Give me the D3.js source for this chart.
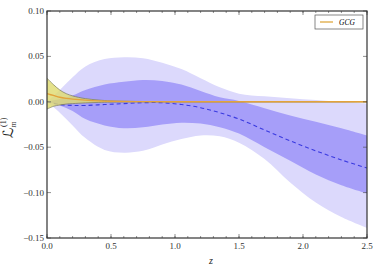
<!DOCTYPE html>
<html>
<head>
<meta charset="utf-8">
<script src="https://cdn.jsdelivr.net/npm/d3@7"></script>
<style>
  body { margin: 0; background: #fff; }
</style>
</head>
<body>
<div id="chart"></div>
<script>
var svgWidth = 382;
var svgHeight = 273;

var margin = { top: 11, right: 15, bottom: 35, left: 47 };
var width  = svgWidth  - margin.left - margin.right;
var height = svgHeight - margin.top  - margin.bottom;

var serif = "'Liberation Serif', 'Times New Roman', 'DejaVu Serif', serif";

// reconstruction bands
var zGrid      = [0, 0.1, 0.2, 0.3, 0.45, 0.6, 0.75, 0.9, 1.05, 1.2, 1.35, 1.5, 1.7, 1.9, 2.1, 2.3, 2.5];
var outerUpper = [0, 0.013, 0.027, 0.039, 0.047, 0.049, 0.048, 0.043, 0.036, 0.026, 0.016, 0.009, 0.006, 0.004, 0.002, 0.000, -0.002];
var outerLower = [0, -0.012, -0.026, -0.040, -0.053, -0.056, -0.054, -0.047, -0.041, -0.037, -0.038, -0.045, -0.063, -0.089, -0.111, -0.127, -0.139];
var innerUpper = [0, 0.003, 0.007, 0.013, 0.019, 0.022, 0.024, 0.023, 0.019, 0.012, 0.005, 0.001, -0.007, -0.015, -0.022, -0.029, -0.037];
var innerLower = [0, -0.004, -0.010, -0.019, -0.026, -0.029, -0.028, -0.025, -0.023, -0.024, -0.028, -0.035, -0.050, -0.065, -0.080, -0.092, -0.101];
var meanLine   = [0, -0.003, -0.004, -0.004, -0.003, -0.002, -0.001, -0.001, -0.003, -0.0065, -0.012, -0.019, -0.031, -0.043, -0.054, -0.064, -0.073];

// GCG model
var zGcg     = [0, 0.05, 0.1, 0.15, 0.2, 0.3, 0.4, 0.5, 0.7, 1.0, 2.5];
var gcgUpper = [0.026, 0.019, 0.013, 0.009, 0.0065, 0.0035, 0.002, 0.001, 0.0004, 0.0001, 0];
var gcgLower = [-0.008, -0.005, -0.0035, -0.0025, -0.002, -0.0012, -0.0007, -0.0004, -0.0002, -0.0001, 0];
var gcgMean  = [0.009, 0.007, 0.005, 0.0038, 0.003, 0.0018, 0.001, 0.0006, 0.0002, 0.0001, 0];

var xTicks = [0, 0.5, 1.0, 1.5, 2.0, 2.5];
var yTicks = [-0.15, -0.10, -0.05, 0.00, 0.05, 0.10];

var svg = d3.select("#chart").append("svg")
  .attr("width", svgWidth)
  .attr("height", svgHeight)
  .style("font-family", serif);

var chartGroup = svg.append("g")
  .attr("transform", `translate(${margin.left}, ${margin.top})`);

var x = d3.scaleLinear().domain([0, 2.5]).range([0, width]);
var y = d3.scaleLinear().domain([-0.15, 0.10]).range([height, 0]);

chartGroup.append("clipPath").attr("id", "clip")
  .append("rect").attr("width", width).attr("height", height);

var plot = chartGroup.append("g").attr("clip-path", "url(#clip)");

var curve = d3.curveCatmullRom.alpha(0.5);

function band(zs, lo, hi) {
  return d3.area()
    .x((d, i) => x(zs[i]))
    .y0((d, i) => y(lo[i]))
    .y1((d, i) => y(hi[i]))
    .curve(curve)(zs);
}
function line(zs, vs) {
  return d3.line()
    .x((d, i) => x(zs[i]))
    .y((d, i) => y(vs[i]))
    .curve(curve)(zs);
}

plot.append("path").attr("d", band(zGrid, outerLower, outerUpper)).attr("fill", "#dcd9fc");
plot.append("path").attr("d", band(zGrid, innerLower, innerUpper)).attr("fill", "#a69ef9");

plot.append("path").attr("d", line(zGrid, meanLine))
  .attr("fill", "none").attr("stroke", "#3a3ae0").attr("stroke-width", 1.1)
  .attr("stroke-dasharray", "4,3");

// GCG band
plot.append("path").attr("d", band(zGcg, gcgLower, gcgUpper))
  .attr("fill", "#dedb6e").attr("fill-opacity", 0.8);
plot.append("path").attr("d", line(zGcg, gcgUpper))
  .attr("fill", "none").attr("stroke", "#7a7a5a").attr("stroke-width", 0.7);
plot.append("path").attr("d", line(zGcg, gcgLower))
  .attr("fill", "none").attr("stroke", "#7a7a5a").attr("stroke-width", 0.7);
plot.append("path").attr("d", line(zGcg, gcgMean))
  .attr("fill", "none").attr("stroke", "#e3a33a").attr("stroke-width", 1.4);

// frame with inward ticks
var tickColor = "#444";
var xMinor = d3.range(0, 2.5001, 0.1);

function xticksOn(vals, len) {
  vals.forEach(function(v) {
    chartGroup.append("line").attr("x1", x(v)).attr("x2", x(v)).attr("y1", height).attr("y2", height - len).attr("stroke", tickColor).attr("stroke-width", 0.6);
    chartGroup.append("line").attr("x1", x(v)).attr("x2", x(v)).attr("y1", 0).attr("y2", len).attr("stroke", tickColor).attr("stroke-width", 0.6);
  });
}
function yticksOn(vals, len) {
  vals.forEach(function(v) {
    chartGroup.append("line").attr("y1", y(v)).attr("y2", y(v)).attr("x1", 0).attr("x2", len).attr("stroke", tickColor).attr("stroke-width", 0.6);
    chartGroup.append("line").attr("y1", y(v)).attr("y2", y(v)).attr("x1", width).attr("x2", width - len).attr("stroke", tickColor).attr("stroke-width", 0.6);
  });
}
xticksOn(xMinor, 2);
xticksOn(xTicks, 4);
yticksOn(yTicks, 4);

chartGroup.append("rect")
  .attr("width", width).attr("height", height)
  .attr("fill", "none").attr("stroke", "#333").attr("stroke-width", 1.2);

// tick labels
chartGroup.selectAll(".xl").data(xTicks).enter().append("text")
  .attr("x", d => x(d)).attr("y", height + 11)
  .attr("text-anchor", "middle").attr("font-size", 9).attr("fill", "#333")
  .text(d => d.toFixed(1));

chartGroup.selectAll(".yl").data(yTicks).enter().append("text")
  .attr("x", -3).attr("y", d => y(d) + 3)
  .attr("text-anchor", "end").attr("font-size", 9).attr("fill", "#333")
  .text(d => (d < 0 ? "\u2212" : "") + Math.abs(d).toFixed(2));

// axis titles
chartGroup.append("text")
  .attr("x", width / 2 + 4).attr("y", height + 26)
  .attr("text-anchor", "middle").attr("font-size", 10).attr("font-style", "italic")
  .attr("fill", "#222")
  .text("z");

var yTitle = svg.append("text")
  .attr("transform", "translate(13, 138) rotate(-90)")
  .attr("font-size", 14).attr("fill", "#222");
yTitle.append("tspan").attr("font-family", "'DejaVu Sans'").text("\u2112");
yTitle.append("tspan").attr("font-size", 8).attr("dx", 1).attr("dy", -7).text("(1)");
yTitle.append("tspan").attr("font-size", 8).attr("font-style", "italic").attr("dx", -10).attr("dy", 10).text("m");

// legend
var legend = chartGroup.append("g").attr("transform", `translate(${width - 52}, 4)`);
legend.append("rect").attr("width", 48).attr("height", 14)
  .attr("fill", "#fff").attr("stroke", "#555").attr("stroke-width", 0.7);
legend.append("line").attr("x1", 5).attr("x2", 18).attr("y1", 7).attr("y2", 7)
  .attr("stroke", "#e3b45a").attr("stroke-width", 1.5);
legend.append("text").attr("x", 24).attr("y", 10).attr("font-size", 7.5)
  .attr("font-style", "italic").text("GCG");
</script>
</body>
</html>
